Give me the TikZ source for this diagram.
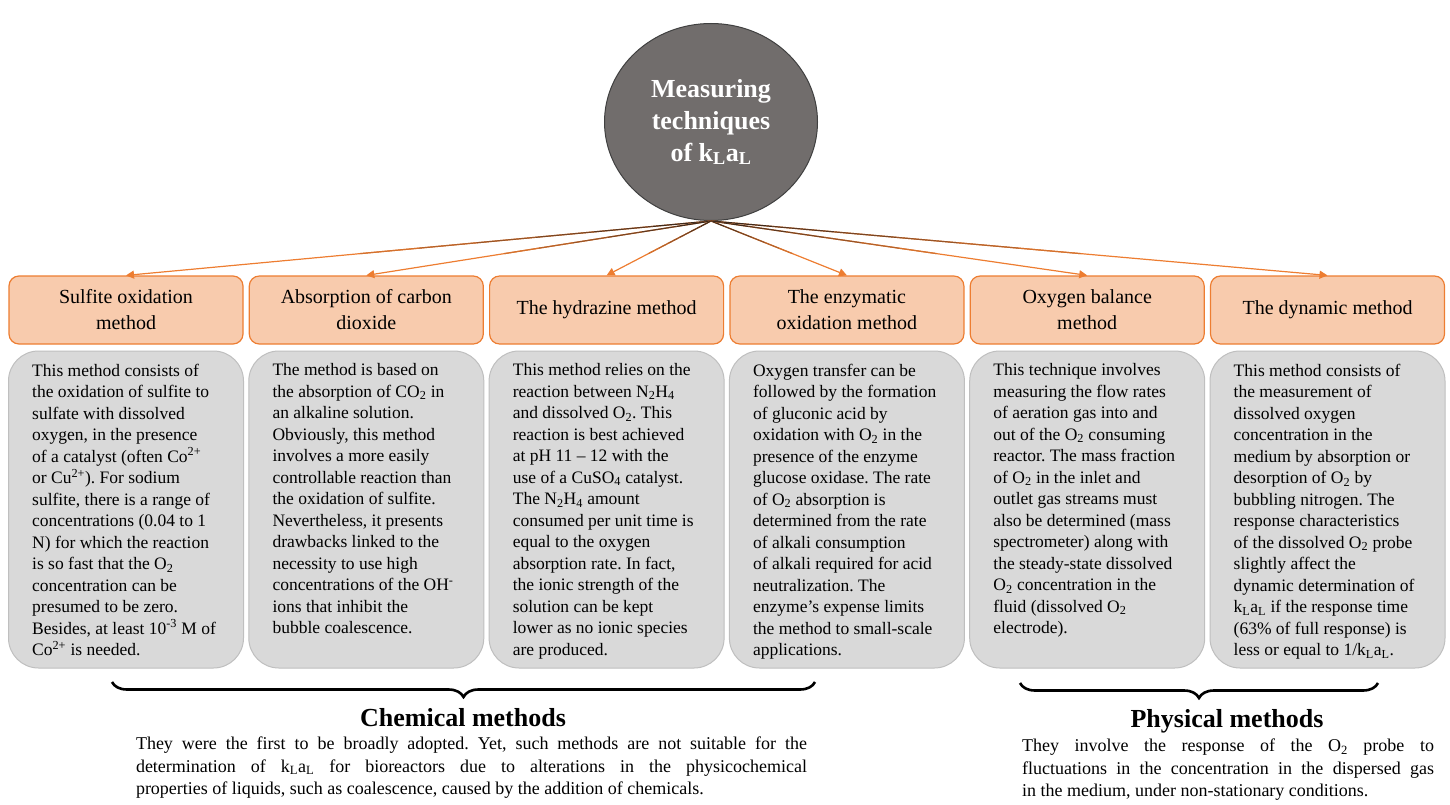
\documentclass[tikz,border=0pt]{standalone}
\usepackage{fontspec}
\setmainfont{Liberation Serif}
\frenchspacing
\usetikzlibrary{shapes.geometric,arrows.meta,calc,decorations.pathreplacing}

\definecolor{accent}{HTML}{ED7D31}
\definecolor{accentfill}{HTML}{F8CBAD}
\definecolor{linkdark}{HTML}{3F2A1C}
\definecolor{rootfill}{HTML}{716D6C}
\definecolor{descfill}{HTML}{D9D9D9}
\definecolor{descline}{HTML}{BFBFBF}

\begin{document}
\begin{tikzpicture}[x=1pt,y=-1pt,
  root/.style={ellipse,draw=black!75,line width=1pt,fill=rootfill,minimum width=213pt,minimum height=197pt,
    text=white,font=\fontsize{26}{32}\selectfont\bfseries,align=center},
  method/.style={rectangle,rounded corners=10pt,draw=accent,fill=accentfill,line width=1.2pt,
    minimum width=234pt,minimum height=68pt,font=\fontsize{20}{26}\selectfont,align=center},
  descbox/.style={rectangle,rounded corners=30pt,draw=descline,fill=descfill,line width=1pt,
    minimum width=235pt,minimum height=317pt},
  desctext/.style={anchor=north west,inner sep=0pt,xshift=24pt,yshift=-13pt,
    font=\fontsize{17.5}{21.5}\selectfont,align=left},
  link/.style={draw=accent,line width=1.2pt,-{Triangle[length=8pt,width=8pt]}},
  linkshade/.style={line width=1.2pt},
  brace/.style={decorate,decoration={brace,mirror,amplitude=15pt},line width=2.6pt},
  grouptitle/.style={font=\fontsize{26}{30}\selectfont\bfseries,inner sep=0pt},
  grouptext/.style={anchor=north,inner sep=0pt,font=\fontsize{18}{22.5}\selectfont,align=left}]

\useasboundingbox (0,0) rectangle (1450,805);

\node[root] (root) at (711,122) {Measuring\\techniques\\of k\textsubscript{L}a\textsubscript{L}};

\foreach \i/\txt in {1/{Sulfite oxidation\\method},2/{Absorption of carbon\\dioxide},
    3/{The hydrazine method},4/{The enzymatic\\oxidation method},
    5/{Oxygen balance\\method},6/{The dynamic method}}
  \node[method] (m\i) at ({126+240.3*(\i-1)},310) {\txt};

\foreach \i in {1,...,6}
  \node[descbox] (d\i) at ({126+240.3*(\i-1)},509.5) {};

% connectors, dark near the circle
\foreach \i in {1,...,6} {
  \draw[link] (root.south) -- (m\i.north);
  \foreach \s [evaluate=\s as \t using \s/10, evaluate=\s as \u using (\s+1)/10,
               evaluate=\s as \p using int(17*\s)] in {0,...,5}
    \draw[linkshade,color=accent!\p!linkdark] ($(root.south)!\t!(m\i.north)$) -- ($(root.south)!\u!(m\i.north)$);
}

\node[desctext] (t1) at (d1.north west) {This method consists of\\
the oxidation of sulfite to\\
sulfate with dissolved\\
oxygen, in the presence\\
of a catalyst (often Co\textsuperscript{2+}\\
or Cu\textsuperscript{2+}). For sodium\\
sulfite, there is a range of\\
concentrations (0.04 to 1\\
N) for which the reaction\\
is so fast that the O\textsubscript{2}\\
concentration can be\\
presumed to be zero.\\
Besides, at least 10\textsuperscript{-3} M of\\
Co\textsuperscript{2+} is needed.};

\node[desctext] (t2) at (d2.north west) {The method is based on\\
the absorption of CO\textsubscript{2} in\\
an alkaline solution.\\
Obviously, this method\\
involves a more easily\\
controllable reaction than\\
the oxidation of sulfite.\\
Nevertheless, it presents\\
drawbacks linked to the\\
necessity to use high\\
concentrations of the OH\textsuperscript{-}\\
ions that inhibit the\\
bubble coalescence.};

\node[desctext] (t3) at (d3.north west) {This method relies on the\\
reaction between N\textsubscript{2}H\textsubscript{4}\\
and dissolved O\textsubscript{2}. This\\
reaction is best achieved\\
at pH 11 -- 12 with the\\
use of a CuSO\textsubscript{4} catalyst.\\
The N\textsubscript{2}H\textsubscript{4} amount\\
consumed per unit time is\\
equal to the oxygen\\
absorption rate. In fact,\\
the ionic strength of the\\
solution can be kept\\
lower as no ionic species\\
are produced.};

\node[desctext] (t4) at (d4.north west) {Oxygen transfer can be\\
followed by the formation\\
of gluconic acid by\\
oxidation with O\textsubscript{2} in the\\
presence of the enzyme\\
glucose oxidase. The rate\\
of O\textsubscript{2} absorption is\\
determined from the rate\\
of alkali consumption\\
of alkali required for acid\\
neutralization. The\\
enzyme's expense limits\\
the method to small-scale\\
applications.};

\node[desctext] (t5) at (d5.north west) {This technique involves\\
measuring the flow rates\\
of aeration gas into and\\
out of the O\textsubscript{2} consuming\\
reactor. The mass fraction\\
of O\textsubscript{2} in the inlet and\\
outlet gas streams must\\
also be determined (mass\\
spectrometer) along with\\
the steady-state dissolved\\
O\textsubscript{2} concentration in the\\
fluid (dissolved O\textsubscript{2}\\
electrode).};

\node[desctext] (t6) at (d6.north west) {This method consists of\\
the measurement of\\
dissolved oxygen\\
concentration in the\\
medium by absorption or\\
desorption of O\textsubscript{2} by\\
bubbling nitrogen. The\\
response characteristics\\
of the dissolved O\textsubscript{2} probe\\
slightly affect the\\
dynamic determination of\\
k\textsubscript{L}a\textsubscript{L} if the response time\\
(63\% of full response) is\\
less or equal to 1/k\textsubscript{L}a\textsubscript{L}.};

% chemical methods
\coordinate (chemL) at (112,682);
\coordinate (chemR) at (815,682);
\draw[brace] (chemL) -- (chemR);
\node[grouptitle] (chemT) at (463,718) {Chemical methods};
\node[grouptext] (chemP) at (471.5,737) {\makebox[671pt][s]{They were the first to be broadly adopted. Yet, such methods are not suitable for the}\\
\makebox[671pt][s]{determination of k\textsubscript{L}a\textsubscript{L} for bioreactors due to alterations in the physicochemical}\\
properties of liquids, such as coalescence, caused by the addition of chemicals.};

% physical methods
\coordinate (physL) at (1020,683);
\coordinate (physR) at (1378,683);
\draw[brace] (physL) -- (physR);
\node[grouptitle] (physT) at (1227,721) {Physical methods};
\node[grouptext] (physP) at (1228,739) {\makebox[412pt][s]{They involve the response of the O\textsubscript{2} probe to}\\
\makebox[412pt][s]{fluctuations in the concentration in the dispersed gas}\\
in the medium, under non-stationary conditions.};
\end{tikzpicture}
\end{document}
